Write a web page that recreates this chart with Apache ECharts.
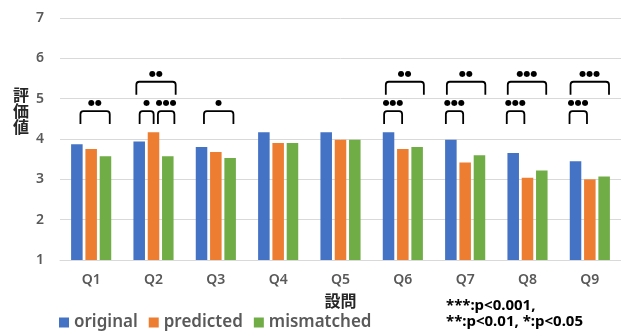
<!DOCTYPE html>
<html>
<head>
<meta charset="utf-8">
<script src="https://cdn.jsdelivr.net/npm/echarts@6/dist/echarts.min.js"></script>
<style>html,body{margin:0;padding:0;background:#fff;}#c{width:621px;height:331px;}</style>
</head>
<body>
<div id="c"></div>
<script>
const categories = ['Q1','Q2','Q3','Q4','Q5','Q6','Q7','Q8','Q9'];
const original   = [3.87, 3.94, 3.80, 4.17, 4.17, 4.17, 3.98, 3.65, 3.45];
const predicted  = [3.75, 4.17, 3.68, 3.90, 3.98, 3.75, 3.42, 3.04, 3.00];
const mismatched = [3.57, 3.57, 3.53, 3.90, 3.98, 3.80, 3.60, 3.22, 3.07];
const yTicks = [1, 2, 3, 4, 5, 6, 7];
// significance brackets: [category index, start slot, end slot, level]
const brackets = [
  [0, -0.75, 1.30, 0],
  [1, -0.97, 0.01, 0],
  [1,  0.31, 1.46, 0],
  [1, -1.20, 1.55, 1],
  [2, -0.83, 1.23, 0],
  [5, -1.31, -0.05, 0],
  [5, -1.19, 1.47, 1],
  [6, -1.35, -0.14, 0],
  [6, -1.28, 1.41, 1],
  [7, -1.45, -0.22, 0],
  [7, -1.38, 1.31, 1],
  [8, -1.42, -0.20, 0],
  [8, -1.35, 1.34, 1]
];
const bracketStars = ['●●','●','●●●','●●','●','●●●','●●','●●●','●●','●●●','●●●','●●●','●●●'];

const chart = echarts.init(document.getElementById('c'));
const BAR_W = 18.5, BAR_GAP = 24; // percent
const levelTop = [4.69, 5.42];
const legLen = 0.32;

chart.setOption({
  animation: false,
  backgroundColor: '#fff',
  grid: { left: 60, right: -9, top: 18, bottom: 71 },
  legend: {
    data: ['original', 'predicted', 'mismatched'],
    left: 54, top: 309,
    icon: 'rect', itemWidth: 10, itemHeight: 10, itemGap: 11,
    textStyle: { color: '#595959', fontSize: 17, fontWeight: 600, fontFamily: 'Noto Sans', padding: [0,0,0,0] }
  },
  xAxis: {
    type: 'category', data: categories,
    name: '設問', nameLocation: 'middle', nameGap: 33,
    nameTextStyle: { color: '#262626', fontSize: 16, fontWeight: 'bold', fontFamily: 'Noto Sans CJK JP' },
    axisLine: { lineStyle: { color: '#d9d9d9', width: 1 } },
    axisTick: { show: false },
    axisLabel: { color: '#595959', fontSize: 14, fontWeight: 600, fontFamily: 'Noto Sans', margin: 13 }
  },
  yAxis: {
    type: 'value', min: 1, max: 7, interval: 1,
    axisLabel: { color: '#595959', fontSize: 14, fontWeight: 600, fontFamily: 'Noto Sans', margin: 16,
      formatter: v => yTicks.includes(v) ? String(v) : '' },
    splitLine: { lineStyle: { color: '#d9d9d9', width: 1 } },
    axisLine: { show: false }, axisTick: { show: false }
  },
  graphic: [
    { type: 'text', left: 13, top: 87, style: { text: '評\n価\n値', fill: '#262626', font: 'bold 16px "Noto Sans CJK JP"', lineHeight: 16 } },
    { type: 'text', left: 446, top: 298, style: { text: '***:p<0.001,', fill: '#000', font: 'bold 15px "Noto Sans"' } },
    { type: 'text', left: 446, top: 314, style: { text: '**:p<0.01, *:p<0.05', fill: '#000', font: 'bold 15px "Noto Sans"' } }
  ],
  series: [
    { name: 'original', type: 'bar', data: original, barWidth: BAR_W + '%', barGap: BAR_GAP + '%', itemStyle: { color: '#4472C4' } },
    { name: 'predicted', type: 'bar', data: predicted, barWidth: BAR_W + '%', barGap: BAR_GAP + '%', itemStyle: { color: '#ED7D31' } },
    { name: 'mismatched', type: 'bar', data: mismatched, barWidth: BAR_W + '%', barGap: BAR_GAP + '%', itemStyle: { color: '#70AD47' } },
    {
      type: 'custom', name: 'sig', silent: true, z: 10,
      data: brackets,
      renderItem: function (params, api) {
        const cat = api.value(0), s1 = api.value(1), s2 = api.value(2), lvl = api.value(3);
        const band = api.size([1, 0])[0];
        const slot = band * BAR_W / 100 * (1 + BAR_GAP / 100);
        const c = api.coord([cat, levelTop[lvl]]);
        const top = c[1];
        const bottom = api.coord([cat, levelTop[lvl] - legLen])[1];
        const x1 = c[0] + s1 * slot, x2 = c[0] + s2 * slot;
        const r = 3;
        return {
          type: 'group',
          children: [
            { type: 'path', shape: { pathData: `M${x1} ${bottom} L${x1} ${top + r} Q${x1} ${top} ${x1 + r} ${top} L${x2 - r} ${top} Q${x2} ${top} ${x2} ${top + r} L${x2} ${bottom}` },
              style: { stroke: '#000', lineWidth: 1.8, fill: null } },
            { type: 'text', style: { text: bracketStars[params.dataIndex], x: (x1 + x2) / 2, y: top - 8,
              align: 'center', verticalAlign: 'middle', fill: '#000', font: '8px "DejaVu Sans"' } }
          ]
        };
      }
    }
  ]
});
</script>
</body>
</html>
